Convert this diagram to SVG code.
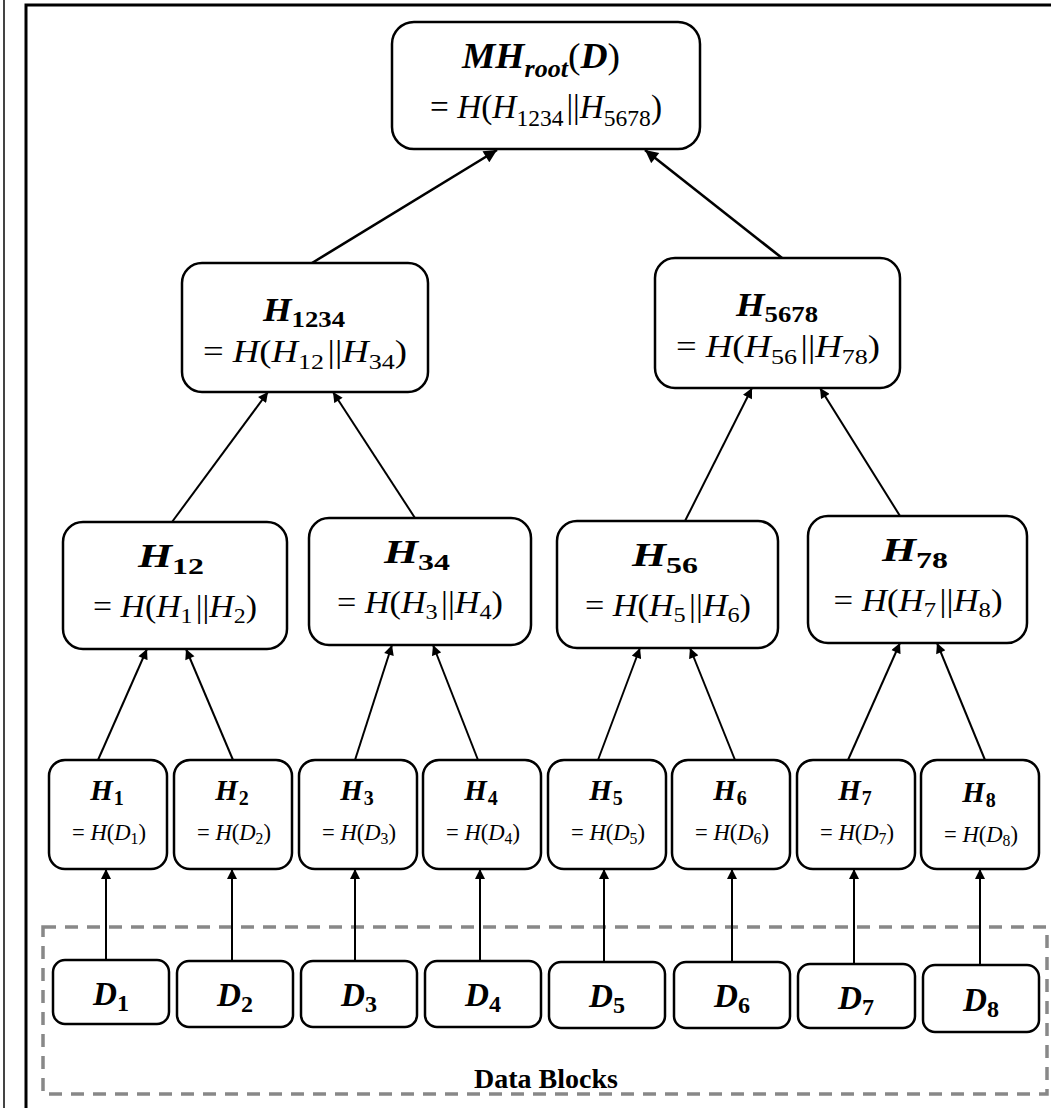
<svg xmlns="http://www.w3.org/2000/svg" width="1051" height="1108" viewBox="0 0 1051 1108">
  <style>
    .box { fill: #fff; stroke: #000; stroke-width: 2.5; }
    .t { font-family: "Liberation Serif", "Times New Roman", serif; fill: #000; text-anchor: middle; }
    .bi { font-weight: bold; font-style: italic; }
    .it { font-style: italic; }
    .up { font-style: normal; }
    .leaf1 { font-size: 29px; }
    .arrow { stroke: #000; stroke-width: 2; fill: none; marker-end: url(#head); }
    .arrowBold { stroke: #000; stroke-width: 2.6; fill: none; marker-end: url(#head); }
  </style>
  <defs>
    <marker id="head" viewBox="0 0 10 10" refX="10" refY="5" markerWidth="5.5" markerHeight="5" orient="auto" markerUnits="strokeWidth">
      <path d="M0,0 L10,5 L0,10 z" fill="#000"/>
    </marker>
  </defs>
  <rect width="1051" height="1108" fill="#fff"/>

  <!-- page frame -->
  <line x1="4" y1="0" x2="4" y2="1108" stroke="#444" stroke-width="2"/>
  <path d="M26,1108 V5 H1051" fill="none" stroke="#000" stroke-width="3"/>

  <!-- data block container -->
  <g id="data-blocks">
    <rect x="43" y="927" width="1004" height="167" fill="none" stroke="#888" stroke-width="3.5" stroke-dasharray="13 9"/>
    <text class="t" x="546" y="1088" font-size="28" font-weight="bold">Data Blocks</text>
  </g>

  <!-- connectors -->
  <g id="connectors">
    <line class="arrowBold" x1="312" y1="263" x2="497" y2="150"/>
    <line class="arrowBold" x1="782" y1="258" x2="645" y2="150"/>

    <line class="arrow" x1="172" y1="522" x2="268" y2="392"/>
    <line class="arrow" x1="415" y1="518" x2="333" y2="392"/>
    <line class="arrow" x1="685" y1="521" x2="752" y2="388"/>
    <line class="arrow" x1="900" y1="516" x2="820" y2="388"/>

    <line class="arrow" x1="98" y1="760" x2="147" y2="649"/>
    <line class="arrow" x1="233" y1="760" x2="186" y2="649"/>
    <line class="arrow" x1="355" y1="760" x2="392" y2="645"/>
    <line class="arrow" x1="478" y1="760" x2="433" y2="645"/>
    <line class="arrow" x1="598" y1="760" x2="640" y2="648"/>
    <line class="arrow" x1="735" y1="760" x2="690" y2="648"/>
    <line class="arrow" x1="848" y1="760" x2="900" y2="643"/>
    <line class="arrow" x1="985" y1="760" x2="937" y2="643"/>

    <line class="arrow" x1="106" y1="960" x2="106" y2="869"/>
    <line class="arrow" x1="232" y1="961" x2="232" y2="869"/>
    <line class="arrow" x1="355" y1="961" x2="355" y2="869"/>
    <line class="arrow" x1="480" y1="961" x2="480" y2="869"/>
    <line class="arrow" x1="604" y1="962" x2="604" y2="869"/>
    <line class="arrow" x1="732" y1="962" x2="732" y2="869"/>
    <line class="arrow" x1="854" y1="964" x2="854" y2="869"/>
    <line class="arrow" x1="980" y1="965" x2="980" y2="869"/>
  </g>

  <!-- root -->
  <g id="root">
    <rect class="box" x="392" y="22" width="308" height="127" rx="22"/>
    <text class="t bi" x="541" y="68" font-size="36" textLength="158" lengthAdjust="spacingAndGlyphs">MH<tspan font-size="25" dy="9">root</tspan><tspan class="up" dy="-9" font-weight="normal">(</tspan>D<tspan class="up" font-weight="normal">)</tspan></text>
    <text class="t" x="546" y="118" font-size="34" textLength="232" lengthAdjust="spacingAndGlyphs">= <tspan class="it">H</tspan>(<tspan class="it">H</tspan><tspan font-size="24" dy="8">1234</tspan><tspan dy="-8" dx="3">||</tspan><tspan class="it">H</tspan><tspan font-size="24" dy="8">5678</tspan><tspan dy="-8">)</tspan></text>
  </g>

  <!-- second level -->
  <g id="h1234">
    <rect class="box" x="182" y="263" width="246" height="129" rx="20"/>
    <text class="t bi" x="304" y="321" font-size="33" textLength="82" lengthAdjust="spacingAndGlyphs">H<tspan class="up" font-size="24" dy="6">1234</tspan></text>
    <text class="t" x="305" y="362" font-size="31" textLength="204" lengthAdjust="spacingAndGlyphs">= <tspan class="it">H</tspan>(<tspan class="it">H</tspan><tspan font-size="22" dy="7">12</tspan><tspan dy="-7" dx="3">||</tspan><tspan class="it">H</tspan><tspan font-size="22" dy="7">34</tspan><tspan dy="-7">)</tspan></text>
  </g>
  <g id="h5678">
    <rect class="box" x="655" y="258" width="245" height="130" rx="20"/>
    <text class="t bi" x="777" y="316" font-size="33" textLength="82" lengthAdjust="spacingAndGlyphs">H<tspan class="up" font-size="24" dy="6">5678</tspan></text>
    <text class="t" x="778" y="357" font-size="31" textLength="204" lengthAdjust="spacingAndGlyphs">= <tspan class="it">H</tspan>(<tspan class="it">H</tspan><tspan font-size="22" dy="7">56</tspan><tspan dy="-7" dx="3">||</tspan><tspan class="it">H</tspan><tspan font-size="22" dy="7">78</tspan><tspan dy="-7">)</tspan></text>
  </g>

  <!-- third level -->
  <g id="h12">
    <rect class="box" x="63" y="522" width="224" height="127" rx="20"/>
    <text class="t bi" x="171" y="567" font-size="33" textLength="66" lengthAdjust="spacingAndGlyphs">H<tspan class="up" font-size="24" dy="7">12</tspan></text>
    <text class="t" x="175" y="617" font-size="31" textLength="164" lengthAdjust="spacingAndGlyphs">= <tspan class="it">H</tspan>(<tspan class="it">H</tspan><tspan font-size="22" dy="6">1</tspan><tspan dy="-6" dx="3">||</tspan><tspan class="it">H</tspan><tspan font-size="22" dy="6">2</tspan><tspan dy="-6">)</tspan></text>
  </g>
  <g id="h34">
    <rect class="box" x="309" y="518" width="222" height="127" rx="20"/>
    <text class="t bi" x="417" y="563" font-size="33" textLength="66" lengthAdjust="spacingAndGlyphs">H<tspan class="up" font-size="24" dy="7">34</tspan></text>
    <text class="t" x="420" y="613" font-size="31" textLength="166" lengthAdjust="spacingAndGlyphs">= <tspan class="it">H</tspan>(<tspan class="it">H</tspan><tspan font-size="22" dy="6">3</tspan><tspan dy="-6" dx="3">||</tspan><tspan class="it">H</tspan><tspan font-size="22" dy="6">4</tspan><tspan dy="-6">)</tspan></text>
  </g>
  <g id="h56">
    <rect class="box" x="557" y="521" width="221" height="127" rx="20"/>
    <text class="t bi" x="665" y="566" font-size="33" textLength="66" lengthAdjust="spacingAndGlyphs">H<tspan class="up" font-size="24" dy="7">56</tspan></text>
    <text class="t" x="668" y="616" font-size="31" textLength="166" lengthAdjust="spacingAndGlyphs">= <tspan class="it">H</tspan>(<tspan class="it">H</tspan><tspan font-size="22" dy="6">5</tspan><tspan dy="-6" dx="3">||</tspan><tspan class="it">H</tspan><tspan font-size="22" dy="6">6</tspan><tspan dy="-6">)</tspan></text>
  </g>
  <g id="h78">
    <rect class="box" x="808" y="516" width="219" height="127" rx="20"/>
    <text class="t bi" x="915" y="561" font-size="33" textLength="66" lengthAdjust="spacingAndGlyphs">H<tspan class="up" font-size="24" dy="7">78</tspan></text>
    <text class="t" x="918" y="611" font-size="31" textLength="169" lengthAdjust="spacingAndGlyphs">= <tspan class="it">H</tspan>(<tspan class="it">H</tspan><tspan font-size="22" dy="6">7</tspan><tspan dy="-6" dx="3">||</tspan><tspan class="it">H</tspan><tspan font-size="22" dy="6">8</tspan><tspan dy="-6">)</tspan></text>
  </g>

  <!-- leaf hashes -->
  <g id="h1">
    <rect class="box" x="49" y="760" width="118" height="109" rx="16"/>
    <text class="t bi leaf1" x="107" y="800">H<tspan class="up" font-size="20" dy="5" dx="1">1</tspan></text>
    <text class="t" x="109" y="840" font-size="23" textLength="74" lengthAdjust="spacingAndGlyphs">= <tspan class="it">H</tspan>(<tspan class="it">D</tspan><tspan font-size="16" dy="4">1</tspan><tspan dy="-4">)</tspan></text>
  </g>
  <g id="h2">
    <rect class="box" x="174" y="760" width="118" height="109" rx="16"/>
    <text class="t bi leaf1" x="232" y="800">H<tspan class="up" font-size="20" dy="5" dx="1">2</tspan></text>
    <text class="t" x="234" y="840" font-size="23" textLength="74" lengthAdjust="spacingAndGlyphs">= <tspan class="it">H</tspan>(<tspan class="it">D</tspan><tspan font-size="16" dy="4">2</tspan><tspan dy="-4">)</tspan></text>
  </g>
  <g id="h3">
    <rect class="box" x="299" y="760" width="118" height="109" rx="16"/>
    <text class="t bi leaf1" x="357" y="800">H<tspan class="up" font-size="20" dy="5" dx="1">3</tspan></text>
    <text class="t" x="359" y="840" font-size="23" textLength="74" lengthAdjust="spacingAndGlyphs">= <tspan class="it">H</tspan>(<tspan class="it">D</tspan><tspan font-size="16" dy="4">3</tspan><tspan dy="-4">)</tspan></text>
  </g>
  <g id="h4">
    <rect class="box" x="423" y="760" width="118" height="109" rx="16"/>
    <text class="t bi leaf1" x="481" y="800">H<tspan class="up" font-size="20" dy="5" dx="1">4</tspan></text>
    <text class="t" x="483" y="840" font-size="23" textLength="74" lengthAdjust="spacingAndGlyphs">= <tspan class="it">H</tspan>(<tspan class="it">D</tspan><tspan font-size="16" dy="4">4</tspan><tspan dy="-4">)</tspan></text>
  </g>
  <g id="h5">
    <rect class="box" x="548" y="760" width="118" height="109" rx="16"/>
    <text class="t bi leaf1" x="606" y="800">H<tspan class="up" font-size="20" dy="5" dx="1">5</tspan></text>
    <text class="t" x="608" y="840" font-size="23" textLength="74" lengthAdjust="spacingAndGlyphs">= <tspan class="it">H</tspan>(<tspan class="it">D</tspan><tspan font-size="16" dy="4">5</tspan><tspan dy="-4">)</tspan></text>
  </g>
  <g id="h6">
    <rect class="box" x="672" y="760" width="118" height="109" rx="16"/>
    <text class="t bi leaf1" x="730" y="800">H<tspan class="up" font-size="20" dy="5" dx="1">6</tspan></text>
    <text class="t" x="732" y="840" font-size="23" textLength="74" lengthAdjust="spacingAndGlyphs">= <tspan class="it">H</tspan>(<tspan class="it">D</tspan><tspan font-size="16" dy="4">6</tspan><tspan dy="-4">)</tspan></text>
  </g>
  <g id="h7">
    <rect class="box" x="797" y="760" width="118" height="109" rx="16"/>
    <text class="t bi leaf1" x="855" y="800">H<tspan class="up" font-size="20" dy="5" dx="1">7</tspan></text>
    <text class="t" x="857" y="840" font-size="23" textLength="74" lengthAdjust="spacingAndGlyphs">= <tspan class="it">H</tspan>(<tspan class="it">D</tspan><tspan font-size="16" dy="4">7</tspan><tspan dy="-4">)</tspan></text>
  </g>
  <g id="h8">
    <rect class="box" x="921" y="760" width="118" height="109" rx="16"/>
    <text class="t bi leaf1" x="979" y="802">H<tspan class="up" font-size="20" dy="5" dx="1">8</tspan></text>
    <text class="t" x="981" y="842" font-size="23" textLength="74" lengthAdjust="spacingAndGlyphs">= <tspan class="it">H</tspan>(<tspan class="it">D</tspan><tspan font-size="16" dy="4">8</tspan><tspan dy="-4">)</tspan></text>
  </g>

  <!-- data blocks -->
  <g id="d1"><rect class="box" x="53" y="960" width="116" height="64" rx="12"/><text class="t bi" x="111" y="1005" font-size="33" textLength="36" lengthAdjust="spacingAndGlyphs">D<tspan class="up" font-size="24" dy="6">1</tspan></text></g>
  <g id="d2"><rect class="box" x="177" y="961" width="116" height="66" rx="12"/><text class="t bi" x="235" y="1006" font-size="33" textLength="36" lengthAdjust="spacingAndGlyphs">D<tspan class="up" font-size="24" dy="6">2</tspan></text></g>
  <g id="d3"><rect class="box" x="301" y="961" width="116" height="66" rx="12"/><text class="t bi" x="359" y="1006" font-size="33" textLength="36" lengthAdjust="spacingAndGlyphs">D<tspan class="up" font-size="24" dy="6">3</tspan></text></g>
  <g id="d4"><rect class="box" x="425" y="961" width="116" height="66" rx="12"/><text class="t bi" x="483" y="1006" font-size="33" textLength="36" lengthAdjust="spacingAndGlyphs">D<tspan class="up" font-size="24" dy="6">4</tspan></text></g>
  <g id="d5"><rect class="box" x="549" y="962" width="116" height="66" rx="12"/><text class="t bi" x="607" y="1007" font-size="33" textLength="36" lengthAdjust="spacingAndGlyphs">D<tspan class="up" font-size="24" dy="6">5</tspan></text></g>
  <g id="d6"><rect class="box" x="674" y="962" width="116" height="66" rx="12"/><text class="t bi" x="732" y="1007" font-size="33" textLength="36" lengthAdjust="spacingAndGlyphs">D<tspan class="up" font-size="24" dy="6">6</tspan></text></g>
  <g id="d7"><rect class="box" x="798" y="964" width="117" height="64" rx="12"/><text class="t bi" x="856" y="1009" font-size="33" textLength="36" lengthAdjust="spacingAndGlyphs">D<tspan class="up" font-size="24" dy="6">7</tspan></text></g>
  <g id="d8"><rect class="box" x="923" y="965" width="116" height="67" rx="12"/><text class="t bi" x="981" y="1011" font-size="33" textLength="36" lengthAdjust="spacingAndGlyphs">D<tspan class="up" font-size="24" dy="6">8</tspan></text></g>
</svg>
